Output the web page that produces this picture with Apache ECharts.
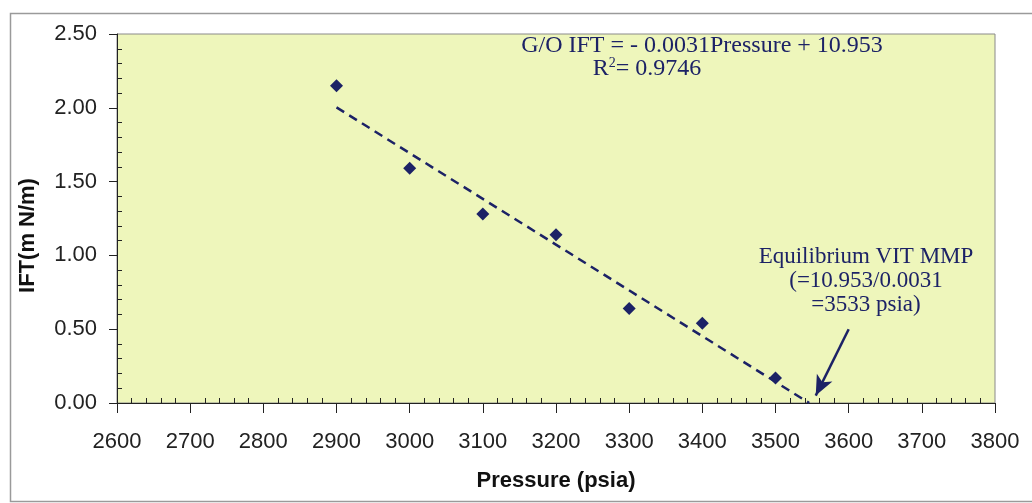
<!DOCTYPE html>
<html>
<head>
<meta charset="utf-8">
<script src="https://cdn.jsdelivr.net/npm/echarts@6/dist/echarts.min.js"></script>
<style>
  html, body { margin: 0; padding: 0; background: #fff; }
  #chart { width: 1032px; height: 503px; }
</style>
</head>
<body>
<div id="chart"></div>
<script>
const pressure = [2900, 3000, 3100, 3200, 3300, 3400, 3500];
const ift = [2.15, 1.59, 1.28, 1.14, 0.64, 0.54, 0.17];
const equationText = "G/O IFT = - 0.0031Pressure + 10.953";
const mmpText = ["Equilibrium VIT MMP", "(=10.953/0.0031", "=3533 psia)"];
const arrowFrom = [3600, 0.5];
const arrowTo = [3555, 0.05];

// least squares fit, drawn from first point out to where IFT hits zero
const n = pressure.length;
const mx = pressure.reduce((a, b) => a + b, 0) / n;
const my = ift.reduce((a, b) => a + b, 0) / n;
let sxy = 0, sxx = 0;
pressure.forEach((x, i) => { sxy += (x - mx) * (ift[i] - my); sxx += (x - mx) * (x - mx); });
const slope = sxy / sxx;
const icept = my - slope * mx;
const xZero = -icept / slope;
const trend = [[pressure[0], slope * pressure[0] + icept], [xZero, 0]];

const navy = "#1c2266";
const serif = "Liberation Serif";
const chart = echarts.init(document.getElementById("chart"));
chart.setOption({
  backgroundColor: "#fff",
  animation: false,
  grid: { left: 117, right: 37, top: 34, bottom: 100, show: true,
          backgroundColor: "#eef6bb", borderColor: "#8a8a8a", borderWidth: 1 },
  xAxis: {
    type: "value", min: 2600, max: 3800, interval: 100,
    name: "Pressure (psia)", nameLocation: "middle", nameGap: 67,
    nameTextStyle: { fontFamily: "Liberation Sans", fontWeight: "bold", fontSize: 22, color: "#111" },
    axisLine: { lineStyle: { color: "#222", width: 1 } },
    axisTick: { show: true, inside: false, length: 10, lineStyle: { color: "#222" } },
    minorTick: { show: true, splitNumber: 5, length: -5, lineStyle: { color: "#222" } },
    splitLine: { show: false },
    axisLabel: { fontFamily: "Liberation Sans", fontSize: 22, color: "#222", margin: 28,
                 formatter: v => String(v) }
  },
  yAxis: {
    type: "value", min: 0, max: 2.5, interval: 0.5,
    name: "IFT(m N/m)", nameLocation: "middle", nameGap: 78,
    nameTextStyle: { fontFamily: "Liberation Sans", fontWeight: "bold", fontSize: 22, color: "#111",
                     padding: [0, 34, 0, 0] },
    axisLine: { show: true, lineStyle: { color: "#222", width: 1 } },
    axisTick: { show: true, length: 8, lineStyle: { color: "#222" } },
    minorTick: { show: true, splitNumber: 5, length: -5, lineStyle: { color: "#222" } },
    splitLine: { show: false },
    axisLabel: { fontFamily: "Liberation Sans", fontSize: 22, color: "#222", margin: 20,
                 formatter: v => v.toFixed(2) }
  },
  series: [
    {
      type: "line", data: trend, symbol: "none", z: 2,
      lineStyle: { color: navy, width: 2.5, type: [9, 6] }
    },
    {
      type: "scatter", data: pressure.map((x, i) => [x, ift[i]]),
      symbol: "diamond", symbolSize: 13, z: 3,
      itemStyle: { color: navy, opacity: 1 },
      markLine: {
        silent: true, symbol: ["none", "arrow"], symbolSize: [13, 20],
        lineStyle: { color: navy, width: 2.5, type: "solid" },
        label: { show: false },
        data: [[{ coord: arrowFrom }, { coord: arrowTo }]]
      }
    }
  ],
  graphic: [
    { type: "rect", left: 8, top: 11, z: -10, silent: true,
      shape: { width: 1040, height: 488 },
      style: { fill: "none", stroke: "#9a9a9a", lineWidth: 1.5 } },
    { type: "text", x: 702, y: 46,
      style: { text: equationText, font: "24px 'Liberation Serif'", fill: navy,
               align: "center", verticalAlign: "middle" } },
    { type: "text", x: 647, y: 69,
      style: { text: "{a|R}{s|2}{a|= 0.9746}", fill: navy, align: "center", verticalAlign: "middle",
               rich: { a: { fontFamily: serif, fontSize: 24, color: navy },
                       s: { fontFamily: serif, fontSize: 14, color: navy, verticalAlign: "top", padding: [0, 0, 12, 0] } } } },
    { type: "text", x: 866, y: 245,
      style: { text: mmpText.join("\n"), fontFamily: serif, fontSize: 23,
               lineHeight: 24, fill: navy, align: "center" } }
  ]
});
</script>
</body>
</html>
